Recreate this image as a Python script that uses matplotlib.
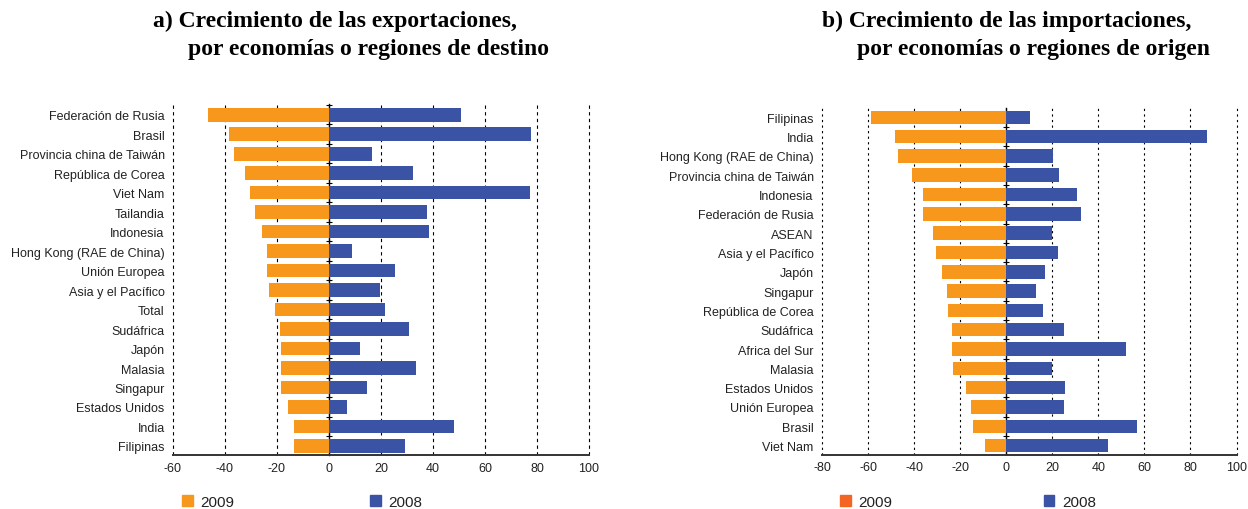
import numpy as np
import matplotlib
matplotlib.use("Agg")
import matplotlib.pyplot as plt
from matplotlib.patches import Patch

# Export growth by destination (%)
exp_labels = ["Federación de Rusia", "Brasil", "Provincia china de Taiwán",
              "República de Corea", "Viet Nam", "Tailandia", "Indonesia",
              "Hong Kong (RAE de China)", "Unión Europea", "Asia y el Pacífico",
              "Total", "Sudáfrica", "Japón", "Malasia", "Singapur",
              "Estados Unidos", "India", "Filipinas"]
exp_2009 = [-46.5, -38.3, -36.4, -32.2, -30.2, -28.3, -25.7, -24.0, -23.7,
            -22.9, -20.6, -18.7, -18.3, -18.3, -18.3, -15.6, -13.3, -13.3]
exp_2008 = [50.7, 77.7, 16.4, 32.2, 77.3, 37.6, 38.3, 8.7, 25.2,
            19.5, 21.4, 30.7, 12.1, 33.3, 14.5, 6.8, 47.9, 29.1]

# Import growth by origin (%)
imp_labels = ["Filipinas", "India", "Hong Kong (RAE de China)",
              "Provincia china de Taiwán", "Indonesia", "Federación de Rusia",
              "ASEAN", "Asia y el Pacífico", "Japón", "Singapur",
              "República de Corea", "Sudáfrica", "Africa del Sur", "Malasia",
              "Estados Unidos", "Unión Europea", "Brasil", "Viet Nam"]
imp_2009 = [-58.9, -48.5, -46.8, -40.7, -36.0, -36.0, -31.6, -30.3, -27.7,
            -25.9, -25.5, -23.4, -23.4, -22.9, -17.6, -15.5, -14.6, -9.4]
imp_2008 = [10.4, 87.2, 20.5, 23.0, 30.9, 32.6, 20.0, 22.7, 17.0,
            13.1, 16.1, 25.2, 52.1, 19.7, 25.7, 25.2, 56.8, 44.4]

ORANGE = "#F7981D"
ORANGE_RED = "#F26522"
BLUE = "#3A53A4"
W, H = 1248, 510

plt.rcParams["font.family"] = ["Liberation Sans", "DejaVu Sans"]
plt.rcParams["axes.unicode_minus"] = False
fig = plt.figure(figsize=(W / 100, H / 100), dpi=100)


def px_axes(x0, y0, x1, y1):
    return fig.add_axes([x0 / W, 1 - y1 / H, (x1 - x0) / W, (y1 - y0) / H])


def draw_panel(ax, labels, v09, v08, xlim, ylim, dash):
    y = np.arange(len(labels))
    ax.barh(y, v09, height=0.7, color=ORANGE, zorder=2)
    ax.barh(y, v08, height=0.7, color=BLUE, zorder=2)
    ax.set_xlim(*xlim)
    ax.set_ylim(*ylim)
    ax.set_xticks(np.arange(xlim[0], xlim[1] + 1, 20))
    ax.set_yticks(y)
    ax.set_yticklabels(labels)
    ax.tick_params(axis="y", length=0, pad=6, labelsize=9, colors="#222222")
    ax.tick_params(axis="x", length=0, pad=5, labelsize=9, colors="#222222")
    ax.grid(axis="x", color="black", linestyle=dash, linewidth=0.8, zorder=0)
    for gl in ax.get_xgridlines():
        gl.set_clip_on(False)
    for s in ("left", "right", "top"):
        ax.spines[s].set_visible(False)
    ax.spines["bottom"].set_color("#333333")
    ax.spines["bottom"].set_linewidth(1.4)
    # zero line with small ticks between categories
    loc = -xlim[0] / (xlim[1] - xlim[0])
    sec = ax.secondary_yaxis(loc)
    sec.set_yticks(np.arange(-0.5, len(labels), 1.0))
    sec.set_yticklabels([])
    sec.tick_params(direction="inout", length=5, width=0.8, color="black")
    sec.spines["left"].set_color("black")
    sec.spines["left"].set_linewidth(1.0)


ax1 = px_axes(173, 105, 589, 456.3)
draw_panel(ax1, exp_labels, exp_2009, exp_2008, (-60, 100), (17.48, -0.55), (0, (3, 3)))

ax2 = px_axes(822, 109, 1236.5, 455.5)
draw_panel(ax2, imp_labels, imp_2009, imp_2008, (-80, 100), (17.46, -0.48), (0, (2, 3)))

title_kw = dict(family=["Liberation Serif"], fontweight="bold", fontsize=17,
                va="center", ha="left")
fig.text(153 / W, 1 - 21 / H, "a) Crecimiento de las exportaciones,", **title_kw)
fig.text(188 / W, 1 - 49 / H, "por economías o regiones de destino", **title_kw)
fig.text(822 / W, 1 - 21 / H, "b) Crecimiento de las importaciones,", **title_kw)
fig.text(857 / W, 1 - 49 / H, "por economías o regiones de origen", **title_kw)

leg_kw = dict(frameon=False, ncol=2, fontsize=11, handlelength=0.7, handleheight=0.7,
              handletextpad=0.5, borderpad=0, borderaxespad=0, loc="center left",
              bbox_transform=fig.transFigure, labelcolor="#222222")
fig.legend(handles=[Patch(color=ORANGE, label="2009"), Patch(color=BLUE, label="2008")],
           bbox_to_anchor=(182 / W, 1 - 503 / H), columnspacing=8.9, **leg_kw)
fig.legend(handles=[Patch(color=ORANGE_RED, label="2009"), Patch(color=BLUE, label="2008")],
           bbox_to_anchor=(840 / W, 1 - 503 / H), columnspacing=9.9, **leg_kw)

fig.savefig("out.png", dpi=100)
